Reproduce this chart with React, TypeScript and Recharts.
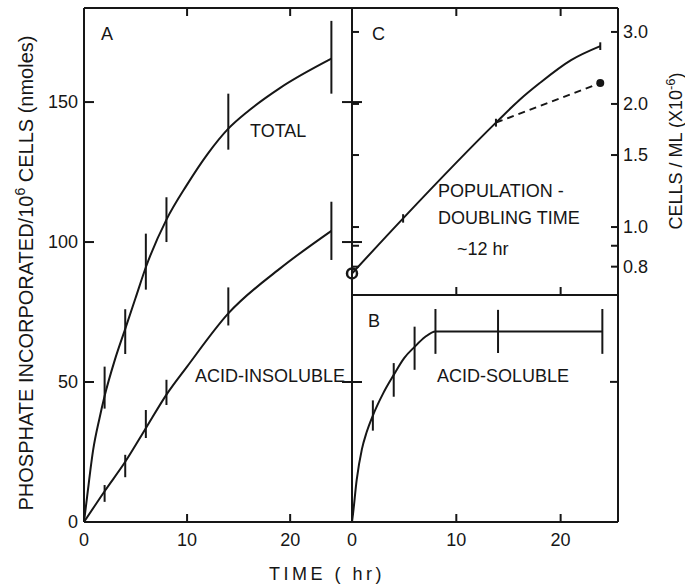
import React from 'react';
import { ComposedChart, Line, Scatter, ErrorBar, XAxis, YAxis } from 'recharts';

const INK = '#161616';
const FONT = '"Liberation Sans", Arial, sans-serif';

// A: phosphate incorporated, nmoles / 10^6 cells
const totalCurveT = [0, 0.3, 0.9, 1.5, 2, 3, 4, 5, 6, 8, 10, 12, 14, 16, 19, 24];
const totalCurveV = [0, 9, 26, 37, 45, 58, 69, 80, 91, 108, 120.5, 131.5, 140.5, 147, 155, 165.5];
const totalPtsT = [2, 4, 6, 8, 14, 24];
const totalPtsV = [48, 68, 93, 108, 143, 166];
const totalPtsE = [7.5, 8, 10, 8, 10, 13];

const insolCurveT = [0, 2, 4, 6, 8, 10, 14, 19, 24];
const insolCurveV = [0, 11, 21.5, 33.5, 45.5, 55.5, 74.5, 90.5, 104];
const insolPtsT = [2, 4, 6, 8, 14, 24];
const insolPtsV = [10.2, 20, 35, 46.3, 77, 104];
const insolPtsE = [3, 4, 5, 4.5, 6.8, 10.4];

// B: acid-soluble (same units as A)
const solCurveT = [0, 0.1, 0.45, 0.95, 1.4, 2, 3, 4, 5, 6, 7, 8, 14, 24];
const solCurveV = [0, 3, 15, 26, 32, 38, 46, 52.5, 58.5, 62.5, 66, 68, 68, 68];
const solPtsT = [2, 4, 6, 8, 14, 24];
const solPtsV = [38, 50.7, 62, 68, 68, 68];
const solPtsE = [5.4, 6, 7.7, 8, 7.7, 8];

// C: cells / ml (x 10^-6), log axis
const cellCurveT = [0, 4.9, 13.8, 16, 18, 21, 23.8];
const cellCurveV = [0.77, 1.05, 1.8, 2.04, 2.25, 2.56, 2.77];
const cellPtsT = [4.9, 13.8, 23.8];
const cellPtsV = [1.05, 1.8, 2.77];
const cellPtsE = [0.025, 0.04, 0.06];
const cellStartT = [0];
const cellStartV = [0.77];
const cellAltT = [13.8, 23.8];
const cellAltV = [1.8, 2.25];

const timeTicks = [0, 10, 20];
const innerTimeTicks = [10, 20];
const phosTicks = [0, 50, 100, 150];
const phosSideTicks = [50, 100, 150];
const solSideTicks = [50];
const cellTicks = [0.8, 0.9, 1.0, 1.5, 2.0, 3.0];

const rows = (t: number[], v: number[], e?: number[]) =>
  t.map((x, i) => ({ t: x, v: v[i], e: e ? e[i] : 0 }));

const axisStyle = { stroke: INK, strokeWidth: 2 };
const TICK_FONT = 18;

// ticks point into the plot, so they are drawn by hand next to the label
type Side = 'bottom' | 'top' | 'left' | 'right';
const inTick = (side: Side, len: number, gap: number, fmt?: (v: number) => string) => (props: any) => {
  const { x, y, payload } = props;
  const label = fmt ? fmt(payload.value) : '';
  const textProps = { fill: INK, fontSize: TICK_FONT, fontFamily: FONT };
  let line;
  let text = null;
  if (side === 'bottom') {
    line = <line x1={x} x2={x} y1={y} y2={y - len} stroke={INK} strokeWidth={2} />;
    if (label) text = <text {...textProps} x={x} y={y + gap} dy="0.71em" textAnchor="middle">{label}</text>;
  } else if (side === 'top') {
    line = <line x1={x} x2={x} y1={y} y2={y + len} stroke={INK} strokeWidth={2} />;
  } else if (side === 'left') {
    line = <line x1={x} x2={x + len} y1={y} y2={y} stroke={INK} strokeWidth={2} />;
    if (label) text = <text {...textProps} x={x - gap} y={y} dy="0.355em" textAnchor="end">{label}</text>;
  } else {
    line = <line x1={x} x2={x - len} y1={y} y2={y} stroke={INK} strokeWidth={2} />;
    if (label) text = <text {...textProps} x={x + gap} y={y} dy="0.355em" textAnchor="start">{label}</text>;
  }
  return (
    <g>
      {line}
      {text}
    </g>
  );
};

const CrossTick = (props: any) => (
  <line x1={props.x - 10} x2={props.x + 10} y1={props.y} y2={props.y} stroke={INK} strokeWidth={2} />
);

const OpenDot = (props: any) => (
  <circle cx={props.cx} cy={props.cy} r={5} fill="none" stroke={INK} strokeWidth={2.5} />
);
const FilledDot = (props: any) => <circle cx={props.cx} cy={props.cy} r={4} fill={INK} />;
const noShape = () => <g />;

const curve = (t: number[], v: number[], dash?: string) => (
  <Line data={rows(t, v)} dataKey="v" type="monotone" dot={false} stroke={INK} strokeWidth={2}
    strokeDasharray={dash} isAnimationActive={false} />
);

const bars = (t: number[], v: number[], e: number[]) => (
  <Scatter data={rows(t, v, e)} dataKey="v" shape={noShape} isAnimationActive={false}>
    <ErrorBar dataKey="e" direction="y" width={0} stroke={INK} strokeWidth={2} isAnimationActive={false} />
  </Scatter>
);

const num = (v: number) => String(v);
const cellFmt = (v: number) => (v === 0.9 ? '' : v.toFixed(1));
const zeroMargin = { top: 0, right: 0, bottom: 0, left: 0 };

// axes with no series of their own need allowDataOverflow to keep their ticks
function PanelA() {
  return (
    <ComposedChart width={372} height={586} margin={zeroMargin}>
      <XAxis dataKey="t" type="number" domain={[0, 26]} ticks={timeTicks} height={64} interval={0}
        tickSize={0} tickMargin={0} axisLine={axisStyle} tickLine={false} tick={inTick('bottom', 8, 11, num)} />
      <XAxis xAxisId="top" orientation="top" dataKey="t" type="number" domain={[0, 26]} ticks={innerTimeTicks}
        allowDataOverflow height={8} interval={0} tickSize={0} tickMargin={0} axisLine={axisStyle} tickLine={false}
        tick={inTick('top', 8, 0)} />
      <YAxis type="number" domain={[0, 183.6]} ticks={phosTicks} width={84} interval={0}
        tickSize={0} tickMargin={0} axisLine={axisStyle} tickLine={false} tick={inTick('left', 10, 6, num)} />
      <YAxis yAxisId="r" orientation="right" type="number" domain={[0, 183.6]} ticks={phosSideTicks}
        allowDataOverflow width={20} interval={0} tickSize={0} tickMargin={0} axisLine={axisStyle} tickLine={false}
        tick={CrossTick} />
      {curve(totalCurveT, totalCurveV)}
      {curve(insolCurveT, insolCurveV)}
      {bars(totalPtsT, totalPtsV, totalPtsE)}
      {bars(insolPtsT, insolPtsV, insolPtsE)}
    </ComposedChart>
  );
}

function PanelC() {
  return (
    <ComposedChart width={345} height={300} margin={zeroMargin}>
      <XAxis dataKey="t" type="number" domain={[0, 25.5]} ticks={innerTimeTicks} height={5} interval={0}
        tickSize={0} tickMargin={0} axisLine={axisStyle} tickLine={false} tick={inTick('bottom', 8, 0)} />
      <XAxis xAxisId="top" orientation="top" dataKey="t" type="number" domain={[0, 25.5]} ticks={innerTimeTicks}
        allowDataOverflow height={8} interval={0} tickSize={0} tickMargin={0} axisLine={axisStyle} tickLine={false}
        tick={inTick('top', 8, 0)} />
      <YAxis type="number" scale="log" domain={[0.682, 3.433]} ticks={cellTicks} width={12} interval={0}
        tickSize={0} tickMargin={0} axisLine={axisStyle} tickLine={false} tick={inTick('left', 7, 0)} />
      <YAxis yAxisId="r" orientation="right" type="number" scale="log" domain={[0.682, 3.433]} ticks={cellTicks}
        allowDataOverflow width={67} interval={0} tickSize={0} tickMargin={0} axisLine={axisStyle} tickLine={false}
        tick={inTick('right', 7, 5, cellFmt)} />
      {curve(cellCurveT, cellCurveV)}
      {curve(cellAltT, cellAltV, '7 5')}
      {bars(cellPtsT, cellPtsV, cellPtsE)}
      <Scatter data={rows(cellStartT, cellStartV)} dataKey="v" shape={OpenDot} isAnimationActive={false} />
      <Scatter data={rows(cellAltT.slice(1), cellAltV.slice(1))} dataKey="v" shape={FilledDot} isAnimationActive={false} />
    </ComposedChart>
  );
}

function PanelB() {
  return (
    <ComposedChart width={345} height={306} margin={{ top: 15, right: 0, bottom: 0, left: 0 }}>
      <XAxis dataKey="t" type="number" domain={[0, 25.5]} ticks={timeTicks} height={64} interval={0}
        tickSize={0} tickMargin={0} axisLine={axisStyle} tickLine={false} tick={inTick('bottom', 8, 11, num)} />
      <YAxis type="number" domain={[0, 81]} width={12} axisLine={axisStyle} tickLine={false} tick={false} />
      <YAxis yAxisId="r" orientation="right" type="number" domain={[0, 81]} ticks={solSideTicks}
        allowDataOverflow width={67} interval={0} tickSize={0} tickMargin={0} axisLine={axisStyle} tickLine={false}
        tick={inTick('right', 8, 0)} />
      {curve(solCurveT, solCurveV)}
      {bars(solPtsT, solPtsV, solPtsE)}
    </ComposedChart>
  );
}

export default function App() {
  const txt = { fill: INK, fontFamily: FONT, fontSize: 18 };
  return (
    <div style={{ position: 'absolute', left: 0, top: 0, width: 685, height: 586, background: '#fff', fontFamily: FONT }}>
      <div style={{ position: 'absolute', left: 0, top: 0 }}>
        <PanelA />
      </div>
      <div style={{ position: 'absolute', left: 340, top: 0 }}>
        <PanelC />
      </div>
      <div style={{ position: 'absolute', left: 340, top: 280 }}>
        <PanelB />
      </div>
      <svg width={685} height={586} style={{ position: 'absolute', left: 0, top: 0, pointerEvents: 'none' }}>
        <text {...txt} x={33} y={273} fontSize={20} textAnchor="middle" transform="rotate(-90 33 273)">
          PHOSPHATE INCORPORATED/10<tspan dy={-8} fontSize={14}>6</tspan>
          <tspan dy={8}> CELLS (nmoles)</tspan>
        </text>
        <text {...txt} x={682} y={151} textAnchor="middle" transform="rotate(-90 682 151)">
          CELLS / ML (X10<tspan dy={-7} fontSize={13}>-6</tspan>
          <tspan dy={7}>)</tspan>
        </text>
        <text {...txt} x={327} y={580} textAnchor="middle" letterSpacing={3.5}>TIME ( hr)</text>
        <text {...txt} x={101} y={40}>A</text>
        <text {...txt} x={250} y={137}>TOTAL</text>
        <text {...txt} x={195} y={382}>ACID-INSOLUBLE</text>
        <text {...txt} x={372} y={40}>C</text>
        <text {...txt} x={438} y={197}>POPULATION -</text>
        <text {...txt} x={438} y={224}>DOUBLING TIME</text>
        <text {...txt} x={457} y={255}>~12 hr</text>
        <text {...txt} x={368} y={327}>B</text>
        <text {...txt} x={437} y={382}>ACID-SOLUBLE</text>
      </svg>
    </div>
  );
}
